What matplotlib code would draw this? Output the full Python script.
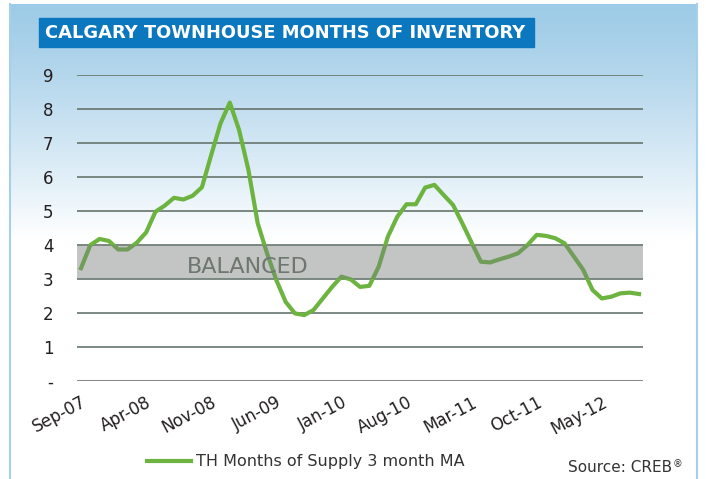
import numpy as np
import matplotlib.pyplot as plt
from matplotlib.patches import Rectangle

# monthly 3-month MA of townhouse months of supply, Sep-07 .. Sep-12
supply = [3.31, 3.99, 4.17, 4.11, 3.86, 3.86, 4.06, 4.36, 4.97, 5.15,
          5.38, 5.33, 5.44, 5.69, 6.64, 7.57, 8.18, 7.37, 6.20, 4.63,
          3.75, 2.96, 2.32, 1.98, 1.93, 2.08, 2.42, 2.76, 3.06, 2.98,
          2.76, 2.79, 3.35, 4.24, 4.82, 5.19, 5.19, 5.68, 5.76, 5.46,
          5.17, 4.63, 4.06, 3.50, 3.48, 3.57, 3.65, 3.75, 3.99, 4.29,
          4.26, 4.19, 4.04, 3.65, 3.26, 2.67, 2.42, 2.47, 2.57, 2.59,
          2.55]
tick_labels = ['Sep-07', 'Apr-08', 'Nov-08', 'Jun-09', 'Jan-10',
               'Aug-10', 'Mar-11', 'Oct-11', 'May-12']
y_labels = ['-', '1', '2', '3', '4', '5', '6', '7', '8', '9']
balanced_low, balanced_high = 3, 4

x = np.arange(len(supply))

fig = plt.figure(figsize=(7.06, 4.79), dpi=100)

# background panel with blue-to-white gradient
bg = fig.add_axes([0, 0, 1, 1], zorder=0)
rows = np.arange(4, 480)
t = np.clip((rows - 4) / 235.0, 0, 1)[:, None] ** 1.2
top = np.array([158, 203, 231]) / 255.0
grad = top * (1 - t) + np.ones(3) * t
bg.imshow(grad[:, None, :], extent=[10, 697, 479, 4], aspect='auto')
bg.plot([10, 10], [4, 479], color='#a6d0ea', lw=1.5)
bg.plot([697, 697], [4, 479], color='#a6d0ea', lw=1.5)
bg.add_patch(Rectangle((39, 18), 495, 29, color='#0a77bf'))
bg.text(45, 33, 'CALGARY TOWNHOUSE MONTHS OF INVENTORY', color='white',
        fontsize=12.9, fontweight='bold', va='center', ha='left')
bg.text(672, 468, 'Source: CREB', ha='right', va='center',
        fontsize=11, color='#333333')
bg.text(673, 464, '®', ha='left', va='center', fontsize=7, color='#333333')
bg.set_xlim(0, 706)
bg.set_ylim(479, 0)
bg.axis('off')

ax = fig.add_axes([0.1091, 0.2052, 0.8013, 0.6388], zorder=1)
ax.patch.set_alpha(0)
ax.set_xlim(-0.43, 60.4)
ax.set_ylim(0, 9)

for y in range(1, 10):
    ax.axhline(y, color='#66756d', lw=1.2, zorder=1)
ax.axhline(0, color='#8a8a8a', lw=2.2, zorder=1)

line, = ax.plot(x, supply, color='#6cb33f', lw=3,
                label='TH Months of Supply 3 month MA', zorder=2)
ax.axhspan(balanced_low, balanced_high, facecolor='#78807a', alpha=0.45,
           lw=0, zorder=3)
ax.text(17.95, 3.35, 'BALANCED', color='#6e7670', fontsize=16,
        ha='center', va='center', zorder=4)

for s in ax.spines.values():
    s.set_visible(False)
ax.set_yticks(range(10))
ax.set_yticklabels(y_labels, fontsize=12, color='#231f20')
ax.set_xticks(x[::7])
ax.set_xticklabels(tick_labels, fontsize=12, color='#231f20', rotation=28,
                   ha='right', va='top', rotation_mode='anchor')
ax.tick_params(axis='y', length=0, pad=17)
ax.tick_params(axis='x', length=0, pad=9)

fig.legend(handles=[line], loc='center', bbox_to_anchor=(0.433, 0.0355),
           frameon=False, fontsize=11.5, handlelength=2.8,
           handletextpad=0.3, labelcolor='#333333')

fig.savefig('out.png', dpi=100)
